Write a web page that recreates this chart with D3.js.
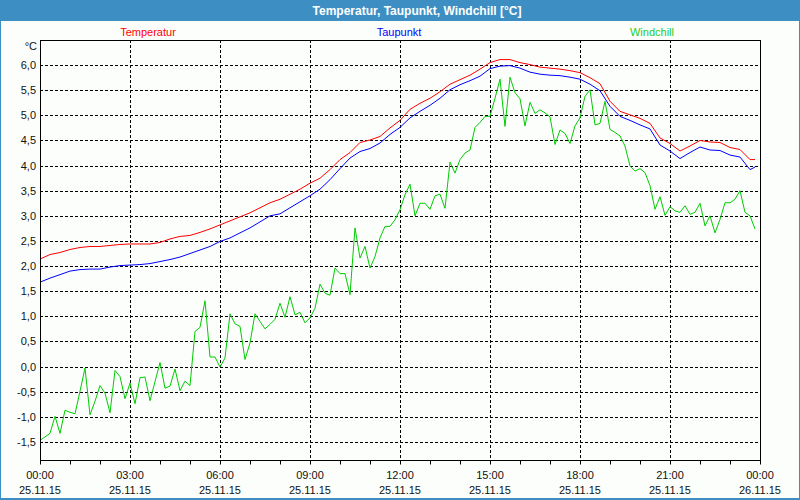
<!DOCTYPE html>
<html>
<head>
<meta charset="utf-8">
<script src="https://cdn.jsdelivr.net/npm/d3@7"></script>
<style>
  body { margin: 0; background: #fff; }
  svg { display: block; font-family: "Liberation Sans", Arial, sans-serif; }
</style>
</head>
<body>
<div id="chart"></div>
<script>
// Temperatur / Taupunkt every 20 min, last sample 23:50
const tempMinutes = d3.range(0, 1440, 20).concat([1430]);
const temperatur = [
  2.14, 2.23, 2.27, 2.33, 2.37, 2.39, 2.39, 2.41, 2.43, 2.44, 2.44, 2.44,
  2.47, 2.54, 2.59, 2.61, 2.67, 2.74, 2.82, 2.90, 2.98, 3.06, 3.16, 3.26,
  3.33, 3.43, 3.53, 3.65, 3.75, 3.92, 4.12, 4.26, 4.46, 4.51, 4.58, 4.75,
  4.90, 5.12, 5.24, 5.34, 5.47, 5.62, 5.71, 5.80, 5.92, 6.05, 6.11, 6.11,
  6.05, 6.01, 5.96, 5.94, 5.92, 5.89, 5.85, 5.75, 5.63, 5.28, 5.08, 5.01,
  4.94, 4.84, 4.55, 4.44, 4.29, 4.39, 4.50, 4.47, 4.46, 4.36, 4.32, 4.12,
  4.12
];
const taupunkt = [
  1.68, 1.76, 1.83, 1.90, 1.93, 1.94, 1.94, 1.98, 2.01, 2.02, 2.03, 2.05,
  2.09, 2.13, 2.18, 2.25, 2.32, 2.39, 2.49, 2.56, 2.66, 2.76, 2.88, 3.00,
  3.04, 3.16, 3.28, 3.40, 3.53, 3.72, 3.94, 4.15, 4.28, 4.34, 4.45, 4.62,
  4.76, 4.95, 5.08, 5.20, 5.34, 5.51, 5.61, 5.69, 5.78, 5.93, 5.98, 5.99,
  5.94, 5.86, 5.82, 5.80, 5.79, 5.76, 5.72, 5.62, 5.49, 5.18, 4.98, 4.90,
  4.81, 4.73, 4.41, 4.29, 4.14, 4.26, 4.37, 4.31, 4.30, 4.21, 4.17, 3.92,
  3.97
];
// Windchill every 10 min
const windMinutes = d3.range(0, 1440, 10);
const windchill = [
  -1.47, -1.40, -1.33, -0.99, -1.33, -0.87, -0.91, -0.94, -0.49, -0.03, -0.96, -0.69,
  -0.38, -0.53, -0.92, -0.08, -0.20, -0.64, -0.33, -0.74, -0.22, -0.21, -0.68, -0.30,
  0.08, -0.43, -0.39, -0.05, -0.48, -0.29, -0.38, 0.70, 0.78, 1.31, 0.19, 0.19,
  -0.01, 0.17, 1.05, 0.85, 0.80, 0.14, 0.47, 1.05, 0.90, 0.75, 0.84, 0.94,
  1.26, 0.98, 1.39, 1.03, 1.08, 0.87, 0.97, 1.16, 1.64, 1.46, 1.42, 1.96,
  1.85, 1.85, 1.43, 2.76, 2.16, 2.39, 1.96, 2.19, 2.56, 2.79, 2.79, 2.92,
  3.12, 3.42, 3.63, 3.00, 3.25, 3.25, 3.13, 3.40, 3.43, 3.15, 4.07, 3.85,
  4.12, 4.25, 4.31, 4.76, 4.86, 4.98, 4.98, 5.34, 5.72, 4.78, 5.76, 5.45,
  5.33, 4.79, 5.26, 5.04, 5.11, 5.05, 4.97, 4.42, 4.71, 4.64, 4.44, 4.79,
  4.95, 5.38, 5.51, 4.81, 4.84, 5.28, 4.72, 4.66, 4.59, 4.39, 3.99, 3.89,
  3.94, 3.86, 3.60, 3.13, 3.38, 3.01, 3.18, 3.10, 3.07, 3.20, 3.03, 3.07,
  3.25, 2.80, 3.00, 2.66, 2.93, 3.26, 3.26, 3.33, 3.50, 3.07, 3.00, 2.74
];
const yTicks = d3.range(-1.5, 6.01, 0.5);
const seriesNames = ["Temperatur", "Taupunkt", "Windchill"];
const seriesColors = ["#ff0000", "#0000ff", "#00cc00"];
const legendColors = ["#ff0000", "#0000ff", "#22cc22"];

const W = 800, H = 500;
const margin = { top: 40, right: 40, bottom: 40, left: 40 };
const start = new Date(Date.UTC(2015, 10, 25, 0, 0));
const end = new Date(Date.UTC(2015, 10, 26, 0, 0));
const toDate = m => new Date(start.getTime() + m * 60000);

const x = d3.scaleUtc().domain([start, end]).range([margin.left, W - margin.right]);
const y = d3.scaleLinear().domain([-1.86, 6.5]).range([H - margin.bottom, margin.top]);

const svg = d3.select("#chart").append("svg")
  .attr("width", W)
  .attr("height", H);

// window frame + title bar
svg.append("rect").attr("width", W).attr("height", H).attr("fill", "#3d8fc3");
svg.append("rect").attr("x", 1).attr("y", 21).attr("width", W - 2).attr("height", H - 23)
  .attr("fill", "#fcfefc");
svg.append("text")
  .attr("x", 417).attr("y", 15)
  .attr("text-anchor", "middle")
  .attr("fill", "#ffffff")
  .style("font-weight", "bold")
  .style("font-size", "12px")
  .text("Temperatur, Taupunkt, Windchill [°C]");

// legend
const legendX = [148, 399, 652];
svg.selectAll(".legend").data(seriesNames).join("text")
  .attr("class", "legend")
  .attr("x", (d, i) => legendX[i]).attr("y", 36)
  .attr("text-anchor", "middle")
  .attr("fill", (d, i) => legendColors[i])
  .style("font-size", "11px")
  .text(d => d);

// grid
const x0 = margin.left, x1 = W - margin.right, yTop = margin.top, yBot = H - margin.bottom;
svg.append("g").selectAll("line").data(yTicks).join("line")
  .attr("x1", x0).attr("x2", x1)
  .attr("y1", d => Math.round(y(d)) + 0.5).attr("y2", d => Math.round(y(d)) + 0.5)
  .attr("stroke", "#000").attr("stroke-dasharray", "3,2");
const xMajor = x.ticks(d3.utcHour.every(3)).filter(d => d > start && d < end);
svg.append("g").selectAll("line").data(xMajor).join("line")
  .attr("x1", d => Math.round(x(d)) + 0.5).attr("x2", d => Math.round(x(d)) + 0.5)
  .attr("y1", yTop).attr("y2", yBot)
  .attr("stroke", "#000").attr("stroke-dasharray", "3,2");

// series
const line = d3.line().x(d => x(d[0])).y(d => y(d[1]));
const series = [
  tempMinutes.map((m, i) => [toDate(m), temperatur[i]]),
  tempMinutes.map((m, i) => [toDate(m), taupunkt[i]]),
  windMinutes.map((m, i) => [toDate(m), windchill[i]])
];
svg.append("g").selectAll("path").data(series).join("path")
  .attr("d", line)
  .attr("fill", "none")
  .attr("stroke", (d, i) => seriesColors[i])
  .attr("stroke-width", 1);

// frame
svg.append("rect")
  .attr("x", x0 + 0.5).attr("y", yTop + 0.5)
  .attr("width", x1 - x0).attr("height", yBot - yTop)
  .attr("fill", "none").attr("stroke", "#000");

// x axis: ticks every hour, labels every 3 hours
const xAxis = svg.append("g")
  .attr("transform", `translate(0,${yBot + 0.5})`)
  .call(d3.axisBottom(x).ticks(d3.utcHour.every(1)).tickSize(4).tickFormat(""));
xAxis.select(".domain").remove();
xAxis.selectAll(".tick line").attr("stroke", "#000");

const xLabels = x.ticks(d3.utcHour.every(3));
const lbl = svg.append("g").style("font-size", "11px").attr("fill", "#111");
lbl.selectAll(".t").data(xLabels).join("text")
  .attr("class", "t")
  .attr("x", d => x(d)).attr("y", 479)
  .attr("text-anchor", "middle")
  .text(d3.utcFormat("%H:%M"));
lbl.selectAll(".d").data(xLabels).join("text")
  .attr("class", "d")
  .attr("x", d => x(d)).attr("y", 494)
  .attr("text-anchor", "middle")
  .text(d3.utcFormat("%d.%m.%y"));

// y labels
const fmt = d => d3.format(".1f")(d).replace(".", ",").replace("−", "-");
lbl.selectAll(".y").data(yTicks).join("text")
  .attr("class", "y")
  .attr("x", 36).attr("y", d => y(d) + 4)
  .attr("text-anchor", "end")
  .text(fmt);
lbl.append("text")
  .attr("x", 37).attr("y", 50)
  .attr("text-anchor", "end")
  .text("°C");
</script>
</body>
</html>
